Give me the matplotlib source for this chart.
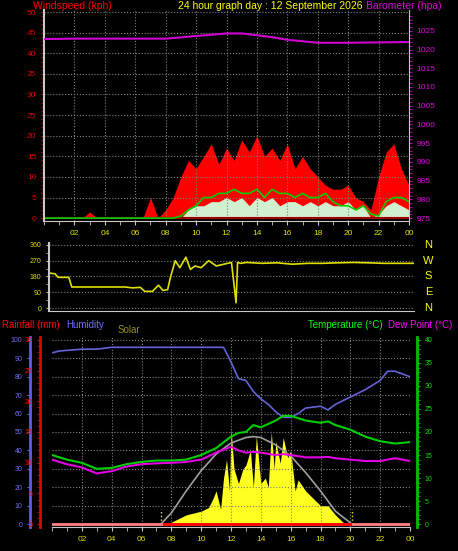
import matplotlib
matplotlib.use("Agg")
import matplotlib.pyplot as plt
import numpy as np

plt.rcParams['font.family'] = ['Liberation Sans', 'DejaVu Sans']

W, H = 458, 551

# ---- data (hours of day) ----
hours_half = np.arange(0, 24.01, 0.5)
gust = [0, 0, 0, 0, 0, 0, 1.5, 0, 0, 0, 0, 0, 0, 0, 5, 0, 2, 5, 10, 14,
        12, 15, 18, 13, 17, 14, 19, 16, 20, 15, 17, 14, 18, 12, 15, 12, 10, 8,
        7, 7, 8, 5, 4, 2, 10, 16, 18, 12, 8]
speed = [0, 0, 0, 0, 0, 0, 0, 0, 0, 0, 0, 0, 0, 0, 0, 0, 0, 0, 0, 2,
         3, 3, 4, 4, 5, 4, 5, 3, 5, 4, 5, 3, 4, 4, 3, 4, 3, 4,
         3, 3, 4, 2, 3, 0, 1, 3, 4, 3, 2]
avg_speed = [0, 0, 0, 0, 0, 0, 0, 0, 0, 0, 0, 0, 0, 0, 0, 0, 0, 0, 0.5, 2,
             3, 5, 5, 6, 6, 7, 6, 6, 7, 5, 7, 6, 6, 5, 6, 5, 5, 6,
             4, 3, 3, 2, 3, 1, 0.5, 4, 5, 5, 4]

baro_h = [0, 2, 4, 6, 8, 10, 12, 13, 14, 15, 16, 17, 18, 20, 22, 24]
baro = [1022.8, 1022.9, 1022.9, 1022.9, 1022.9, 1023.6, 1024.3, 1024.3, 1023.8,
        1023.3, 1022.6, 1022.2, 1021.8, 1021.8, 1021.9, 1022.0]

dir_h = [0, 0.4, 0.6, 1.3, 1.5, 5.0, 5.5, 6.0, 6.3, 6.8, 7.2, 7.5, 7.8, 8.0,
         8.3, 8.6, 9.0, 9.3, 9.6, 10.0, 10.5, 11.0, 11.5, 12.0, 12.3, 12.4,
         12.6, 13.0, 14.0, 15.0, 16.0, 17.0, 18.0, 19.0, 20.0, 21.0, 22.0, 23.0, 24.0]
direction = [200, 195, 175, 175, 120, 120, 115, 118, 95, 95, 130, 100, 105, 180,
             270, 230, 290, 220, 240, 230, 270, 240, 250, 260, 30, 260,
             255, 260, 255, 258, 250, 255, 255, 258, 260, 258, 255, 255, 255]

hum_h = [0, 0.5, 2, 3, 4, 6, 11.5, 12, 12.5, 13, 13.5, 14, 14.5, 15, 15.5, 16,
         16.5, 17, 18, 18.5, 19, 20, 21, 22, 22.5, 23, 24]
humidity = [93, 94, 95, 95, 96, 96, 96, 88, 79, 78, 72, 68, 65, 61, 58, 58,
            60, 63, 64, 62, 65, 69, 73, 78, 83, 83, 80]

temp_h = [0, 1, 2, 3, 4, 5, 6, 7, 8, 9, 10, 11, 12, 12.5, 13, 13.5, 14, 15, 15.5,
          16, 17, 18, 18.5, 19, 20, 21, 22, 23, 24]
temperature = [15, 14, 13.3, 12, 12.2, 13, 13.5, 13.8, 13.8, 14, 15, 16.5, 19,
               19.8, 20, 21.5, 21, 22.5, 23.5, 23.5, 22.5, 22, 22.3, 21.5, 20.5,
               19, 18, 17.5, 17.8]
dewpoint = [14, 13, 12.3, 11, 11.5, 12.5, 13, 13.2, 13.3, 13.5, 14, 15.5, 16.8,
            16, 15.5, 15.7, 15.5, 15, 15.2, 15, 14.5, 14.5, 14.6, 14.3, 14,
            13.7, 13.7, 14.3, 13.7]

solar_h = [7.5, 8, 8.5, 9, 9.5, 10, 10.5, 10.8, 11, 11.3, 11.5, 11.7, 11.9, 12, 12.2,
           12.5, 12.8, 13, 13.3, 13.5, 13.7, 14, 14.3, 14.5, 14.7, 14.9, 15, 15.3,
           15.5, 15.8, 16, 16.3, 16.5, 17, 17.5, 18, 18.5, 19, 19.5, 20]
solar = [0, 1, 3, 5, 6, 7, 9, 14, 18, 8, 25, 35, 18, 52, 30, 22, 30, 32, 40, 20,
         48, 22, 25, 20, 50, 30, 45, 33, 47, 36, 40, 18, 24, 18, 14, 10, 10, 5, 1, 0]
theo_h = [7.3, 8, 9, 10, 11, 12, 13, 13.5, 14, 15, 16, 17, 18, 19, 20.1]
theo_solar = [0, 6, 18, 29, 38, 44, 47, 47.5, 47, 43, 37, 28, 18, 7, 0]

rain_h = [0, 24]
rain = [0, 0]

xticks = np.arange(2, 25, 2)
xticklabels = ['%02d' % (h % 24) for h in xticks]


def add_box(x0, y0, x1, y1):
    return fig.add_axes([x0 / W, 1 - y1 / H, (x1 - x0) / W, (y1 - y0) / H])


def style(ax, labels=True):
    ax.set_facecolor('black')
    for s in ax.spines.values():
        s.set_visible(False)
    ax.spines['left'].set_visible(True)
    ax.spines['left'].set_color('#c8c8c8')
    ax.spines['left'].set_linewidth(1.5)
    ax.spines['bottom'].set_visible(True)
    ax.spines['bottom'].set_color('#c8c8c8')
    ax.grid(True, color='#808080', linestyle=':', linewidth=0.8)
    ax.set_xlim(0, 24)
    ax.set_xticks(xticks)
    ax.set_xticks(np.arange(0, 24.1, 1), minor=True)
    ax.set_xticklabels(xticklabels if labels else [])
    ax.tick_params(axis='x', which='both', colors='#c8c8c8', labelcolor='#e0e000',
                   labelsize=6, length=3)
    ax.tick_params(axis='y', which='both', labelsize=6, length=2)


fig = plt.figure(figsize=(W / 100, H / 100), dpi=100, facecolor='black')

# ---- panel 1: wind + barometer ----
ax1 = add_box(44, 10, 409, 221)
style(ax1)
ax1.set_ylim(-0.7, 50.5)
ax1.set_yticks(np.arange(0, 51, 5))
ax1.set_yticks(np.arange(0, 51, 1), minor=True)
ax1.tick_params(axis='y', which='both', colors='#c00000', labelcolor='#e00000')
ax1.fill_between(hours_half, 0, gust, color='#ff0000', linewidth=0)
ax1.plot(hours_half, np.zeros(len(hours_half)), color='#a00000', lw=1.5)
ax1.fill_between(hours_half, 0, speed, color='#d0f0d0', linewidth=0)
ax1.plot(hours_half, avg_speed, color='#00d000', lw=1.2)
axb = ax1.twinx()
axb.set_ylim(975 - 0.77, 975 + 50.5 * 1.1)
axb.set_yticks(np.arange(975, 1026, 5))
axb.set_yticks(np.arange(975, 1030, 1), minor=True)
axb.tick_params(axis='y', which='both', colors='#c000c0', labelcolor='#e000e0',
                labelsize=6, length=2)
for s in axb.spines.values():
    s.set_visible(False)
axb.spines['right'].set_visible(True)
axb.spines['right'].set_color('#c8c8c8')
axb.plot(baro_h, baro, color='#d000d0', lw=1.5)

fig.text(33 / W, 1 - 6 / H, 'Windspeed (kph)', color='#ff0000', fontsize=7.5, va='center')
fig.text(270 / W, 1 - 6 / H, '24 hour graph day : 12 September 2026', color='#ffff00',
         fontsize=7.5, va='center', ha='center')
fig.text(366 / W, 1 - 6 / H, 'Barometer (hpa)', color='#e000e0', fontsize=7.5, va='center')

# ---- panel 2: wind direction ----
ax2 = add_box(49, 243, 414, 311)
style(ax2, labels=False)
ax2.tick_params(axis='x', which='both', length=0)
ax2.set_ylim(-17, 371)
ax2.set_yticks([0, 90, 180, 270, 360])
ax2.set_yticks(np.arange(0, 361, 45), minor=True)
ax2.tick_params(axis='y', which='both', colors='#c0c000', labelcolor='#e0e000', labelsize=5)
ax2.grid(False, axis='x')
ax2.plot(dir_h, direction, color='#e0e000', lw=1.2)
for lab, v in zip(['N', 'W', 'S', 'E', 'N'], [360, 270, 180, 90, 0]):
    ax2.text(1.04, (v + 17) / 388, lab, transform=ax2.transAxes, color='#ffff00',
             fontsize=8, va='center', ha='center')

fig.text(2 / W, 1 - 325 / H, 'Rainfall (mm)', color='#ff0000', fontsize=7, va='center')
fig.text(66 / W, 1 - 325 / H, 'Humidity', color='#7070ff', fontsize=7, va='center')
fig.text(118 / W, 1 - 330 / H, 'Solar', color='#909020', fontsize=7, va='center')
fig.text(308 / W, 1 - 325 / H, 'Temperature (°C)', color='#00ff00', fontsize=7, va='center')
fig.text(388 / W, 1 - 325 / H, 'Dew Point (°C)', color='#ff00ff', fontsize=7, va='center')

# ---- panel 3: humidity, rain, temp, solar ----
ax3 = add_box(52, 337, 410, 527)
style(ax3)
ax3.set_ylim(-1.6, 101.6)
ax3.set_yticks(np.arange(0, 101, 10))
ax3.set_yticklabels([])
ax3.tick_params(axis='y', length=0)
ax3.spines['left'].set_visible(False)

hum_ax = ax3.secondary_yaxis(-0.061)
hum_ax.set_yticks(np.arange(0, 101, 10))
hum_ax.tick_params(colors='#6060e0', labelcolor='#7070ff', labelsize=5, length=2)
hum_ax.spines['left'].set_color('#6060e0')
hum_ax.spines['left'].set_linewidth(2)

rain_ax = ax3.secondary_yaxis(-0.034, functions=(lambda v: v * 0.3, lambda v: v / 0.3))
rain_ax.set_yticks(np.arange(0, 31, 5))
rain_ax.set_yticks(np.arange(0, 31, 1), minor=True)
rain_ax.tick_params(which='both', colors='#e00000', labelcolor='#ff0000', labelsize=5, length=2)
rain_ax.spines['left'].set_color('#e00000')
rain_ax.spines['left'].set_linewidth(2)

temp_ax = ax3.secondary_yaxis(1.02, functions=(lambda v: v * 0.4, lambda v: v / 0.4))
temp_ax.set_yticks(np.arange(0, 41, 5))
temp_ax.set_yticks(np.arange(0, 41, 1), minor=True)
temp_ax.tick_params(which='both', colors='#00c000', labelcolor='#00e000', labelsize=5, length=2)
temp_ax.spines['right'].set_color('#00c000')
temp_ax.spines['right'].set_linewidth(2)

ax3.fill_between(solar_h, 0, solar, color='#ffff20', linewidth=0)
ax3.plot(theo_h, theo_solar, color='#a0a0a0', lw=1.2)
ax3.vlines([7.3, 20.1], 0, 8, color='#e0e000', linestyle=':', lw=1)
ax3.plot(hum_h, humidity, color='#6464d8', lw=1.2)
ax3.plot(temp_h, np.array(temperature) / 0.4, color='#00d000', lw=1.5)
ax3.plot(temp_h, np.array(dewpoint) / 0.4, color='#e000e0', lw=1.5)
ax3.plot(rain_h, np.array(rain) / 0.3, color='#ff8080', lw=2)
ax3.plot([7.5, 20], [0, 0], color='#ff0000', lw=2)

fig.savefig('out.png', dpi=100, facecolor='black')
